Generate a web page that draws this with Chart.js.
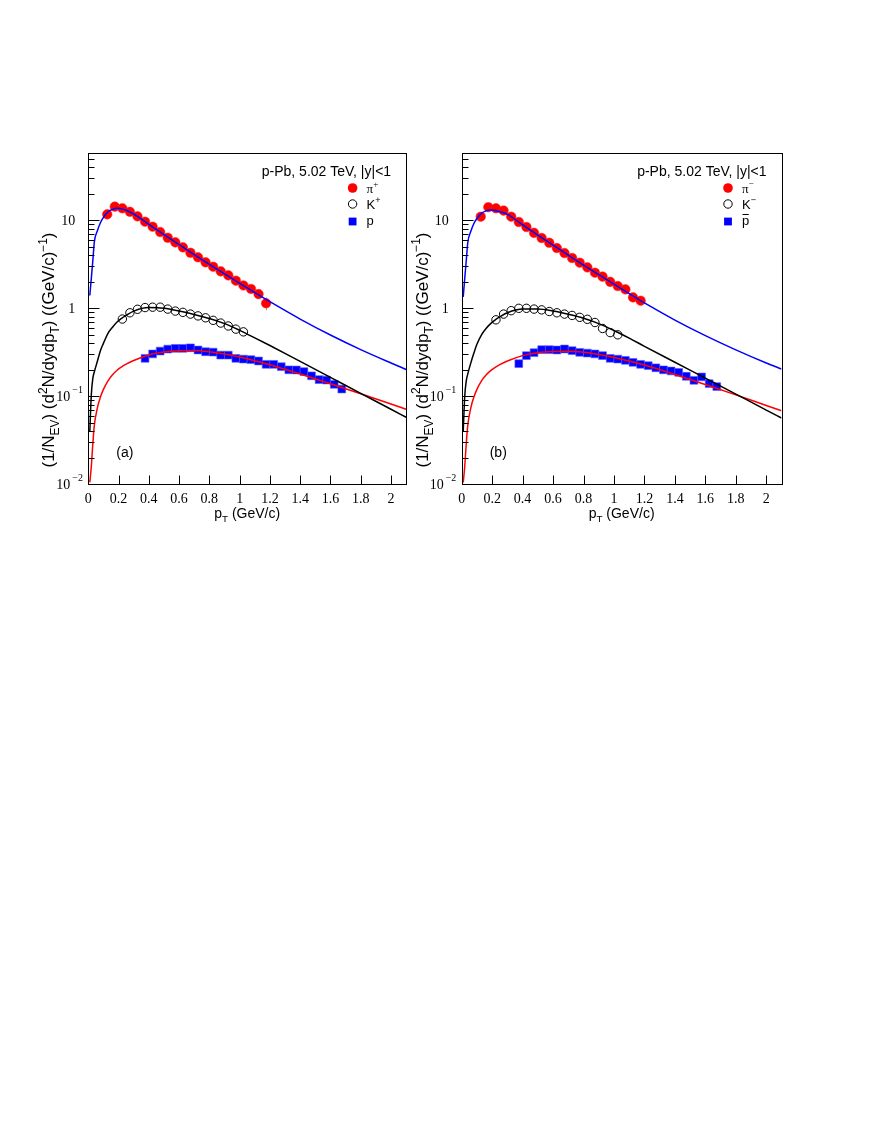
<!DOCTYPE html>
<html>
<head>
<meta charset="utf-8">
<script src="https://cdn.jsdelivr.net/npm/chart.js@4.4.1/dist/chart.umd.min.js"></script>
<style>
  html, body { margin: 0; padding: 0; background: #fff; }
  body { width: 872px; height: 1128px; position: relative; overflow: hidden; }
  canvas { position: absolute; left: 0; top: 0; }
</style>
</head>
<body>
<canvas id="panelA" width="872" height="560"></canvas>
<canvas id="panelB" width="872" height="560"></canvas>
<script>
// ---- data (pT in GeV/c, yield in (GeV/c)^-1) ----
const piX = [0.125,0.175,0.225,0.275,0.325,0.375,0.425,0.475,0.525,0.575,0.625,0.675,0.725,0.775,0.825,0.875,0.925,0.975,1.025,1.075,1.125,1.175];
const piPlusY  = [11.7,14.3,13.7,12.5,11.1,9.64,8.46,7.36,6.34,5.62,4.93,4.28,3.8,3.33,2.97,2.63,2.37,2.06,1.82,1.66,1.45,1.14];
const piMinusY = [11.0,14.1,13.7,12.9,11.0,9.57,8.4,7.2,6.3,5.56,4.84,4.25,3.73,3.3,2.92,2.54,2.29,2.0,1.79,1.64,1.33,1.22];
// only the last pi+ error bar sticks out of its marker
const piPlusErr = [0,0,0,0,0,0,0,0,0,0,0,0,0,0,0,0,0,0,0,0,0,0.19];

const kX = [0.225,0.275,0.325,0.375,0.425,0.475,0.525,0.575,0.625,0.675,0.725,0.775,0.825,0.875,0.925,0.975,1.025];
const kPlusY  = [0.755,0.89,0.975,1.02,1.03,1.03,0.98,0.93,0.90,0.86,0.82,0.78,0.73,0.68,0.63,0.58,0.54];
const kMinusY = [0.74,0.86,0.94,1.0,1.0,0.98,0.96,0.92,0.89,0.86,0.83,0.79,0.75,0.69,0.59,0.53,0.50];

const pX = [0.375,0.425,0.475,0.525,0.575,0.625,0.675,0.725,0.775,0.825,0.875,0.925,0.975,1.025,1.075,1.125,1.175,1.225,1.275,1.325,1.375,1.425,1.475,1.525,1.575,1.625,1.675];
const pY    = [0.270,0.303,0.327,0.344,0.351,0.351,0.356,0.336,0.321,0.318,0.294,0.294,0.270,0.265,0.261,0.252,0.231,0.231,0.217,0.200,0.199,0.191,0.171,0.155,0.153,0.137,0.121];
const pbarY = [0.235,0.290,0.313,0.339,0.339,0.336,0.345,0.330,0.316,0.310,0.303,0.290,0.270,0.265,0.256,0.243,0.231,0.223,0.211,0.200,0.194,0.187,0.169,0.152,0.166,0.139,0.129];

// fit curves
const fitX = [0.01,0.02,0.03,0.04,0.06,0.08,0.1,0.13,0.16,0.19,0.22,0.25,0.3,0.4,0.5,0.6,0.7,0.8,0.9,1.0,1.1,1.2,1.4,1.6,1.8,2.0,2.1];
const fitPiA = [1.4,2.2,3.5,5.7,7.6,9.4,10.8,12.5,13.3,13.7,13.5,13.0,11.8,9.0,6.89,5.30,4.08,3.16,2.46,1.92,1.51,1.19,0.755,0.497,0.339,0.239,0.202];
const fitKA  = [0.04,0.105,0.16,0.19,0.25,0.33,0.40,0.52,0.61,0.70,0.77,0.83,0.93,1.02,1.0,0.93,0.85,0.765,0.67,0.562,0.462,0.378,0.249,0.164,0.108,0.0713,0.0578];
const fitPA  = [0.0105,0.016,0.029,0.047,0.074,0.098,0.12,0.15,0.176,0.198,0.216,0.232,0.255,0.295,0.318,0.329,0.331,0.321,0.302,0.279,0.254,0.228,0.179,0.1387,0.1067,0.0817,0.0714];
const fitPiB = [1.35,2.2,3.5,5.6,7.5,9.2,10.5,12.0,12.8,13.1,12.9,12.5,11.7,8.9,6.8,5.22,4.02,3.1,2.41,1.88,1.47,1.15,0.735,0.489,0.337,0.239,0.204];
const fitKB  = [0.04,0.1,0.15,0.18,0.24,0.31,0.39,0.5,0.59,0.67,0.74,0.8,0.89,0.98,0.98,0.93,0.855,0.77,0.67,0.56,0.458,0.37,0.244,0.161,0.106,0.0698,0.0567];
const fitPB  = [0.0105,0.016,0.029,0.047,0.074,0.098,0.12,0.15,0.175,0.196,0.213,0.229,0.252,0.29,0.313,0.323,0.325,0.316,0.298,0.276,0.252,0.227,0.177,0.136,0.1038,0.0787,0.0686];

// axes
const xTicks = [0,0.2,0.4,0.6,0.8,1,1.2,1.4,1.6,1.8,2];
const xTickLabels = ['0','0.2','0.4','0.6','0.8','1','1.2','1.4','1.6','1.8','2'];
const yMajor = [0.01,0.1,1,10];
const yMajorBase = ['10','10','1','10'];
const yMajorExp = ['\u22122','\u22121','',''];
const yMinor = [0.02,0.03,0.04,0.05,0.06,0.07,0.08,0.09,0.2,0.3,0.4,0.5,0.6,0.7,0.8,0.9,2,3,4,5,6,7,8,9,20,30,40,50];

const SANS = '"Liberation Sans", Arial, Helvetica, sans-serif';
const SERIF = '"Liberation Serif", "Times New Roman", serif';

const pts = (xs, ys) => xs.map((x, i) => ({ x: x, y: ys[i] }));

// draw text with sub/superscript runs, returns width
function drawRuns(ctx, runs, x, y, size, family, measureOnly) {
    let cx = x;
    runs.forEach(([t, k]) => {
        const s = k ? size * 0.7 : size;
        ctx.font = s + 'px ' + family;
        const dy = k === 'sub' ? size * 0.3 : (k === 'sup' ? -size * 0.45 : 0);
        if (!measureOnly) ctx.fillText(t, cx, y + dy);
        cx += ctx.measureText(t).width;
    });
    return cx - x;
}

const rootAxes = {
    id: 'rootAxes',
    beforeDatasetsDraw(chart, args, o) {
        if (!o.err) return;
        const ctx = chart.ctx, sx = chart.scales.x, sy = chart.scales.y;
        ctx.save();
        ctx.strokeStyle = '#9a9a9a'; ctx.lineWidth = 1;
        ctx.beginPath();
        o.err.forEach((e, i) => {
            if (!e) return;
            const px = Math.round(sx.getPixelForValue(piX[i])) + 0.5;
            ctx.moveTo(px, sy.getPixelForValue(o.errY[i] + e));
            ctx.lineTo(px, sy.getPixelForValue(o.errY[i] - e));
        });
        ctx.stroke();
        ctx.restore();
    },
    afterDraw(chart, args, o) {
        const ctx = chart.ctx, a = chart.chartArea, sx = chart.scales.x, sy = chart.scales.y;
        const L = Math.round(a.left) + 0.5, R = Math.round(a.right) + 0.5;
        const T = Math.round(a.top) + 0.5, B = Math.round(a.bottom) + 0.5;
        ctx.save();
        ctx.strokeStyle = '#000'; ctx.lineWidth = 1;
        ctx.strokeRect(L, T, R - L, B - T);
        ctx.beginPath();
        xTicks.forEach(v => { const px = Math.round(sx.getPixelForValue(v)) + 0.5; ctx.moveTo(px, B); ctx.lineTo(px, B - 9); });
        yMajor.forEach(v => { const py = Math.round(sy.getPixelForValue(v)) + 0.5; ctx.moveTo(L, py); ctx.lineTo(L + 11, py); });
        yMinor.forEach(v => { const py = Math.round(sy.getPixelForValue(v)) + 0.5; ctx.moveTo(L, py); ctx.lineTo(L + 6, py); });
        ctx.stroke();

        ctx.fillStyle = '#000';
        ctx.textBaseline = 'alphabetic';
        // x tick labels
        ctx.font = '14px ' + SERIF; ctx.textAlign = 'center';
        xTicks.forEach((v, i) => ctx.fillText(xTickLabels[i], sx.getPixelForValue(v), 503));
        // y tick labels
        yMajor.forEach((v, i) => {
            const py = sy.getPixelForValue(v) + 5;
            ctx.font = '14px ' + SERIF;
            if (yMajorExp[i]) {
                ctx.textAlign = 'right'; ctx.fillText(yMajorBase[i], a.left - 18, py);
                ctx.textAlign = 'left'; ctx.font = '10px ' + SERIF;
                ctx.fillText(yMajorExp[i], a.left - 16, py - 8);
            } else {
                ctx.textAlign = 'right'; ctx.fillText(yMajorBase[i], a.left - 13, py);
            }
        });

        ctx.textAlign = 'left';
        // x title
        const xRuns = [['p', ''], ['T', 'sub'], [' (GeV/c)', '']];
        const xw = drawRuns(ctx, xRuns, 0, 0, 14, SANS, true);
        drawRuns(ctx, xRuns, (a.left + a.right) / 2 - xw / 2, 518, 14, SANS);
        // y title
        const yRuns = [['(1/N', ''], ['EV', 'sub'], [') (d', ''], ['2', 'sup'], ['N/dydp', ''], ['T', 'sub'],
                       [') ((GeV/c)', ''], ['\u22121', 'sup'], [')', '']];
        const yw = drawRuns(ctx, yRuns, 0, 0, o.titleSize, SANS, true);
        ctx.save();
        ctx.translate(a.left - 40, o.titleY);
        ctx.rotate(-Math.PI / 2);
        drawRuns(ctx, yRuns, -yw / 2, 6, o.titleSize, SANS);
        ctx.restore();

        // header and panel tag
        ctx.font = '14px ' + SANS; ctx.textAlign = 'right';
        ctx.fillText('p-Pb, 5.02 TeV, |y|<1', a.right - 15, 175.5);
        ctx.textAlign = 'left'; ctx.font = '14px ' + SANS;
        ctx.fillText(o.tag, a.left + 28, 456.5);

        // legend
        const mx = a.right - 53.5, tx = a.right - 39.5;
        ctx.fillStyle = '#ff0000';
        ctx.beginPath(); ctx.arc(mx, 188, 4.8, 0, Math.PI * 2); ctx.fill();
        ctx.strokeStyle = '#000'; ctx.lineWidth = 1;
        ctx.beginPath(); ctx.arc(mx, 204, 4.2, 0, Math.PI * 2); ctx.stroke();
        ctx.fillStyle = '#0000ff';
        ctx.fillRect(mx - 3.9, 221.5 - 3.9, 7.8, 7.8);

        ctx.fillStyle = '#000';
        drawRuns(ctx, [['\u03c0', ''], [o.sign, 'sup']], tx, 193, 13, SERIF);
        drawRuns(ctx, [['K', ''], [o.sign, 'sup']], tx, 209, 13, SANS);
        ctx.font = '13px ' + SANS;
        ctx.fillText('p', tx, 225);
        if (o.bar) {
            const w = ctx.measureText('p').width;
            ctx.beginPath(); ctx.moveTo(tx + 0.5, 214.5); ctx.lineTo(tx + w - 0.5, 214.5); ctx.stroke();
        }
        ctx.restore();
    }
};

function makePanel(id, left, right, pi, k, p, fPi, fK, fP, o) {
    const curve = (data, color) => ({
        data: data, showLine: true, pointRadius: 0, borderColor: color, borderWidth: 1.5,
        cubicInterpolationMode: 'monotone', order: 0
    });
    return new Chart(document.getElementById(id), {
        type: 'scatter',
        data: {
            datasets: [
                curve(pts(fitX, fPi), '#0000ff'),
                curve(pts(fitX, fK), '#000000'),
                curve(pts(fitX, fP), '#ff0000'),
                { data: pts(piX, pi), pointStyle: 'circle', pointRadius: 4.8, backgroundColor: '#ff0000', borderColor: '#ff2020', borderWidth: 0.5, order: 1 },
                { data: pts(kX, k), pointStyle: 'circle', pointRadius: 4.2, backgroundColor: 'rgba(255,255,255,0)', borderColor: '#000', borderWidth: 1, order: 1 },
                { data: pts(pX, p), pointStyle: 'rect', pointRadius: 5.5, backgroundColor: '#0000ff', borderColor: '#5a5aff', borderWidth: 0.6, order: 1 }
            ]
        },
        options: {
            responsive: false, animation: false, devicePixelRatio: 1,
            layout: { padding: { left: left, right: 872 - right, top: 152.5, bottom: 560 - 484.3 } },
            scales: {
                x: { type: 'linear', min: 0, max: 2.1, display: false },
                y: { type: 'logarithmic', min: 0.01, max: 59, display: false }
            },
            plugins: { legend: { display: false }, tooltip: { enabled: false }, rootAxes: o }
        },
        plugins: [rootAxes]
    });
}

makePanel('panelA', 88.3, 406.1, piPlusY, kPlusY, pY, fitPiA, fitKA, fitPA,
    { tag: '(a)', sign: '+', bar: false, titleSize: 17, titleY: 350, err: piPlusErr, errY: piPlusY });
makePanel('panelB', 461.7, 781.5, piMinusY, kMinusY, pbarY, fitPiB, fitKB, fitPB,
    { tag: '(b)', sign: '\u2212', bar: true, titleSize: 17, titleY: 350 });
</script>
</body>
</html>
